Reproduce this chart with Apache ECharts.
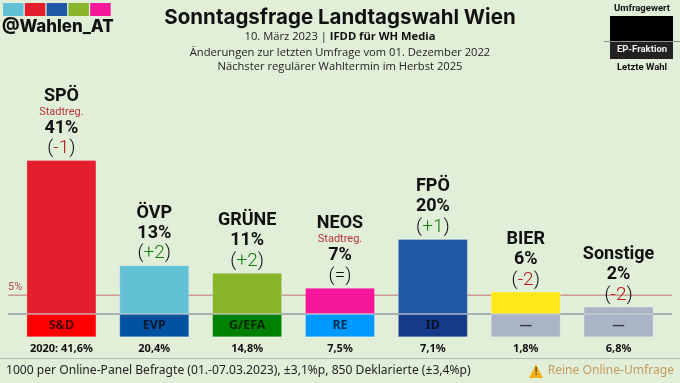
<!DOCTYPE html>
<html><head><meta charset="utf-8">
<style>html,body{margin:0;padding:0;background:#e1efd9}#c{width:680px;height:383px}</style>
<script src="https://cdn.jsdelivr.net/npm/echarts@6/dist/echarts.min.js"></script>
</head><body><div id="c"></div>
<script>
const parties = ['SPÖ','ÖVP','GRÜNE','NEOS','FPÖ','BIER','Sonstige'];
const values = [41,13,11,7,20,6,2];
const changes = ['-1','+2','+2','=','+1','-2','-2'];
const notes = ['Stadtreg.','','','Stadtreg.','','',''];
const colors = ['#e31e2d','#62c1d4','#88b52a','#f7179a','#2058a5','#ffe81a','#a9b4c6'];
const blocs = ['S&D','EVP','G/EFA','RE','ID','—','—'];
const blocColors = ['#ff0000','#00529f','#008000','#0099ff','#153a8a','#a9b4c6','#a9b4c6'];
const lastElection = ['2020: 41,6%','20,4%','14,8%','7,5%','7,1%','1,8%','6,8%'];
const threshold = 5;
const blocDepth = -6.2;
const logoColors = ['#62c1d4','#e31e2d','#2058a5','#88b52a','#f7179a'];

const yMin = -6.2, yMax = 68, gTop = 58.7, gBottom = 45.7;
const chart = echarts.init(document.getElementById('c'), null, {renderer:'canvas'});

function labelText(i){
  const c = changes[i];
  const st = c[0]==='-' ? 'neg' : (c[0]==='+' ? 'pos' : 'par');
  const lines = ['{name|'+parties[i]+'}'];
  if (notes[i]) lines.push('{note|'+notes[i]+'}');
  lines.push('{pct|'+values[i]+'%}');
  lines.push('{par|(}{'+st+'|'+c+'}{par|)}');
  return lines.join('\n');
}
const txt = (x,y,text,font,fill,align) => ({type:'text',x,y,silent:true,z:20,
  style:{text,font,fill,textAlign:align||'center',textVerticalAlign:'middle'}});
const box = (x,y,w,h,fill) => ({type:'rect',silent:true,z:10,shape:{x,y,width:w,height:h},style:{fill}});

const graphics = [];
logoColors.forEach((c,i)=>graphics.push(box(3+i*21.8,3,20.5,13,c)));
graphics.push(txt(2,27,'@Wahlen_AT','800 16.9px Inter','#111','left'));
graphics.push(txt(340,18,'Sonntagsfrage Landtagswahl Wien','700 20.5px Inter','#111'));
graphics.push({type:'text',x:340,y:37,silent:true,z:20,style:{
  rich:{a:{font:'11.2px "Open Sans"',fill:'#222'},b:{font:'700 11.2px "Open Sans"',fill:'#111'}},
  text:'{a|10. März 2023 | }{b|IFDD für WH Media}',textAlign:'center',textVerticalAlign:'middle'}});
graphics.push(txt(340,53,'Änderungen zur letzten Umfrage vom 01. Dezember 2022','11.2px "Open Sans"','#222'));
graphics.push(txt(340,67,'Nächster regulärer Wahltermin im Herbst 2025','11.2px "Open Sans"','#222'));
graphics.push(txt(642,9,'Umfragewert','700 9.5px Roboto','#111'));
graphics.push(box(610,16,63,25,'#000'));
graphics.push(box(604,41,76,1,'#8a8f8a'));
graphics.push(box(610,42,63,17,'#222'));
graphics.push(txt(642,50,'EP-Fraktion','700 9.5px Roboto','#eee'));
graphics.push(txt(642,68,'Letzte Wahl','700 9.5px Roboto','#111'));
graphics.push(box(0,358,680,1,'#b4bdb0'));
graphics.push(txt(6,371,'1000 per Online-Panel Befragte (01.-07.03.2023), ±3,1%p, 850 Deklarierte (±3,4%p)','12.1px "Noto Sans"','#222','left'));
graphics.push({type:'polygon',silent:true,z:19,shape:{points:[[536,364],[543,378],[529,378]]},style:{fill:'#f5b21a'}});
graphics.push(txt(536,372.5,'!','700 10px Roboto','#5a4a20'));
graphics.push(txt(674,371,'Reine Online-Umfrage','12.1px "Noto Sans"','#c49a5a','right'));

chart.setOption({
  animation:false,
  backgroundColor:'#e1efd9',
  graphic:graphics,
  grid:[
    {left:15,width:650,top:gTop,bottom:gBottom},
    {left:8,right:8,top:gTop,bottom:gBottom}
  ],
  xAxis:[
    {type:'category',gridIndex:0,data:lastElection,position:'bottom',
     axisLine:{show:false,onZero:false},axisTick:{show:false},
     axisLabel:{interval:0,margin:6,fontFamily:'Noto Sans',fontWeight:700,fontSize:11,color:'#111'}},
    {type:'value',gridIndex:1,min:0,max:1,show:false}
  ],
  yAxis:[
    {type:'value',gridIndex:0,min:yMin,max:yMax,show:false},
    {type:'value',gridIndex:1,min:yMin,max:yMax,show:false}
  ],
  series:[
    {type:'line',xAxisIndex:1,yAxisIndex:1,z:1,silent:true,
     data:[{value:[0,threshold],symbol:'circle',symbolSize:0,
            label:{show:true,position:[0,-13],formatter:threshold+'%',color:'#b5494a',fontFamily:'Roboto',fontSize:11}},
           {value:[1,threshold],symbol:'none'}],
     lineStyle:{color:'#c99c90',width:1.5}},
    {type:'line',xAxisIndex:1,yAxisIndex:1,z:1,silent:true,symbol:'none',
     data:[[0,0],[1,0]],lineStyle:{color:'#949aa6',width:1.5}},
    {type:'bar',xAxisIndex:0,yAxisIndex:0,stack:'s',barWidth:70,z:2,silent:true,
     data:values.map((v,i)=>({value:v,itemStyle:{color:colors[i]}})),
     itemStyle:{borderColor:'rgba(255,255,255,0.25)',borderWidth:1},
     label:{show:true,position:'top',distance:1,formatter:p=>labelText(p.dataIndex),
       rich:{
         name:{fontFamily:'Roboto',fontWeight:700,fontSize:18,lineHeight:20,color:'#111'},
         note:{fontFamily:'Roboto',fontSize:11,lineHeight:12,color:'#b5333b'},
         pct:{fontFamily:'Roboto',fontWeight:700,fontSize:18,lineHeight:20,color:'#111'},
         par:{fontFamily:'Roboto',fontWeight:300,fontSize:19,lineHeight:21,color:'#111'},
         neg:{fontFamily:'Roboto',fontWeight:300,fontSize:19,lineHeight:21,color:'#b01818'},
         pos:{fontFamily:'Roboto',fontWeight:300,fontSize:19,lineHeight:21,color:'#0f7a0f'}
       }}},
    {type:'bar',xAxisIndex:0,yAxisIndex:0,stack:'s',barWidth:70,z:2,silent:true,
     data:blocs.map((b,i)=>({value:blocDepth,itemStyle:{color:blocColors[i]}})),
     itemStyle:{borderColor:'rgba(255,255,255,0.25)',borderWidth:1},
     label:{show:true,position:'inside',formatter:p=>blocs[p.dataIndex],
       fontFamily:'Noto Sans',fontWeight:700,fontSize:12.5,color:'rgba(0,0,0,0.7)'}}
  ]
});
</script></body></html>
